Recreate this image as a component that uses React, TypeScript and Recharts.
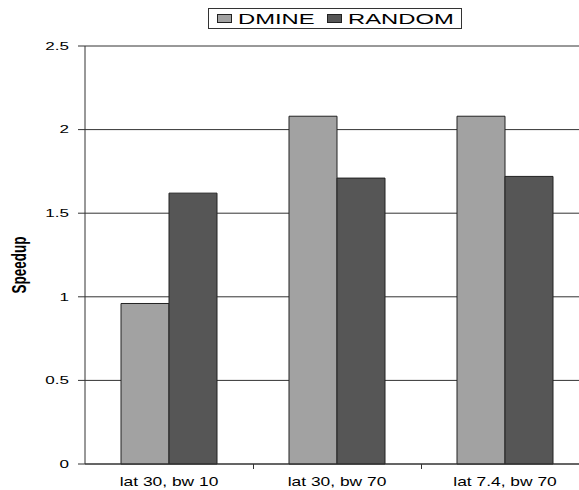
import React from 'react';
import { BarChart, Bar, XAxis, YAxis, CartesianGrid, Legend } from 'recharts';

// Speedup per configuration for the two schemes
const categories = ['lat 30, bw 10', 'lat 30, bw 70', 'lat 7.4, bw 70'];
const dmineValues = [0.96, 2.08, 2.08];
const randomValues = [1.62, 1.71, 1.72];
const yTicks = [0, 0.5, 1, 1.5, 2, 2.5];
const yLabel = 'Speedup';

const data = categories.map((name, i) => ({
  name,
  DMINE: dmineValues[i],
  RANDOM: randomValues[i],
}));

const FONT = '"Liberation Sans", Arial, Helvetica, sans-serif';
const W = 600;
const H = 490;
const MARGIN = { top: 46, right: 11, bottom: 0, left: 0 };
const Y_AXIS_W = 85;
const X_AXIS_H = 26;
const PLOT_W = W - MARGIN.left - MARGIN.right - Y_AXIS_W;
const TEXT_STRETCH = 1.55;
const LEGEND_STRETCH = 1.7;

const XTick = (props: any) => {
  const { x, y, payload, index } = props;
  const band = PLOT_W / categories.length;
  const bx = Math.round(x - band / 2) + 0.5;
  return (
    <g>
      {index > 0 && <line x1={bx} x2={bx} y1={y} y2={y + 5} stroke="#333" strokeWidth={1} />}
      <text
        transform={`translate(${x},${y + 22}) scale(${1.45},1)`}
        textAnchor="middle"
        fontSize={12}
        fontFamily={FONT}
        fill="#000"
      >
        {payload.value}
      </text>
    </g>
  );
};

const YTick = (props: any) => {
  const { x, y, payload } = props;
  return (
    <text
      transform={`translate(${x},${y}) scale(${TEXT_STRETCH},1)`}
      textAnchor="end"
      dominantBaseline="central"
      fontSize={11}
      fontFamily={FONT}
      fill="#000"
    >
      {String(payload.value)}
    </text>
  );
};

const SpeedupLabel = (props: any) => {
  const vb = props.viewBox || { x: 0, y: MARGIN.top, width: Y_AXIS_W, height: 418 };
  const cx = vb.x + 19;
  const cy = vb.y + vb.height / 2 + 10;
  return (
    <text
      transform={`translate(${cx},${cy}) scale(${TEXT_STRETCH},1) rotate(-90)`}
      textAnchor="middle"
      dominantBaseline="central"
      fontSize={13.5}
      fontWeight="bold"
      fontFamily={FONT}
      fill="#000"
    >
      {yLabel}
    </text>
  );
};

const LegendBox = (props: any) => {
  const items = props.payload || [];
  return (
    <svg width={256} height={22} style={{ display: 'block' }}>
      <rect x={0.5} y={0.5} width={253} height={20} fill="#fff" stroke="#333" strokeWidth={1} />
      {items.map((item: any, i: number) => {
        const x0 = 9 + i * 110;
        return (
          <g key={String(item.value)}>
            <rect x={x0 + 0.5} y={6.5} width={14} height={8} fill={item.color} stroke="#222" strokeWidth={1} />
            <text
              transform={`translate(${x0 + 21},16.3) scale(${LEGEND_STRETCH},1)`}
              fontSize={14}
              fontFamily={FONT}
              fill="#000"
            >
              {item.value}
            </text>
          </g>
        );
      })}
    </svg>
  );
};

export default function App() {
  return (
    <div
      style={{
        position: 'absolute',
        left: 0,
        top: 0,
        width: 579,
        height: 490,
        overflow: 'hidden',
        background: '#fff',
      }}
    >
      <BarChart
        width={W}
        height={H}
        data={data}
        margin={MARGIN}
        barCategoryGap="21.43%"
        barGap={0}
      >
        <CartesianGrid vertical={false} stroke="#333" strokeWidth={1} />
        <XAxis
          dataKey="name"
          height={X_AXIS_H}
          tickLine={false}
          tickSize={0}
          tickMargin={0}
          axisLine={{ stroke: '#333', strokeWidth: 1 }}
          tick={<XTick />}
          interval={0}
        />
        <YAxis
          width={Y_AXIS_W}
          domain={[0, 2.5]}
          ticks={yTicks}
          interval={0}
          tickSize={7}
          tickMargin={9}
          axisLine={{ stroke: '#333', strokeWidth: 1 }}
          tickLine={{ stroke: '#333', strokeWidth: 1 }}
          tick={<YTick />}
          label={{ content: <SpeedupLabel /> }}
        />
        <Legend
          verticalAlign="middle"
          align="center"
          layout="horizontal"
          wrapperStyle={{ top: 8, left: 208, width: 256, height: 22 }}
          content={<LegendBox />}
        />
        <Bar dataKey="DMINE" fill="#a2a2a2" stroke="#222" strokeWidth={1} isAnimationActive={false} />
        <Bar dataKey="RANDOM" fill="#565656" stroke="#222" strokeWidth={1} isAnimationActive={false} />
      </BarChart>
    </div>
  );
}
